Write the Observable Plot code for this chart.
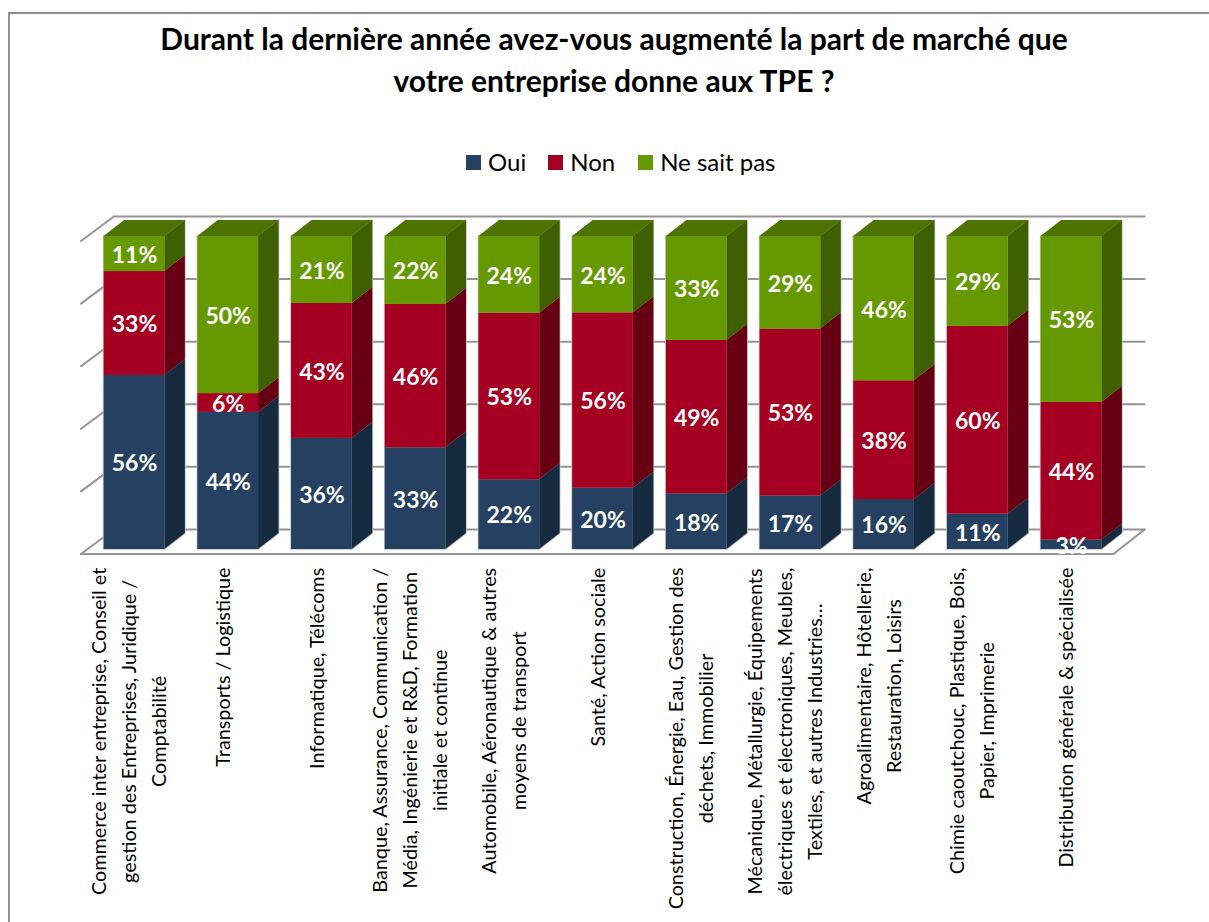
<!DOCTYPE html>
<html lang="fr">
<head>
<meta charset="utf-8">
<script src="https://cdn.jsdelivr.net/npm/d3@7"></script>
<script src="https://cdn.jsdelivr.net/npm/@observablehq/plot@0.6"></script>
<style>
  html, body { margin: 0; padding: 0; background: #fff; width: 1209px; height: 922px; overflow: hidden; }
  #frame { position: absolute; left: 8px; top: 12px; width: 1201px; height: 910px; box-sizing: border-box;
           border-left: 2px solid #8e8e8e; border-top: 2px solid #8e8e8e; }
  #head { position: absolute; left: 0; top: 0; width: 1209px; height: 190px; font-family: Lato, sans-serif; color: #000; }
  #title { position: absolute; left: 0; width: 1228px; top: 17px; margin: 0; text-align: center;
           font-size: 30px; line-height: 42px; font-weight: 700; }
  #legend { position: absolute; top: 148px; left: 466px; display: flex; align-items: center; font-size: 24px; line-height: 28px; white-space: nowrap; }
  #legend i { display: inline-block; width: 15px; height: 15px; margin-right: 7px; }
  #chart { position: absolute; left: 0; top: 190px; }
  #chart svg { display: block; background: transparent; }
</style>
</head>
<body>
<div id="frame"></div>
<div id="head">
  <h1 id="title">Durant la dernière année avez-vous augmenté la part de marché que<br>votre entreprise donne aux TPE ?</h1>
  <div id="legend"></div>
</div>
<div id="chart"></div>
<script>
const categories = [
  "Commerce inter entreprise, Conseil et\ngestion des Entreprises, Juridique /\nComptabilité",
  "Transports / Logistique",
  "Informatique, Télécoms",
  "Banque, Assurance, Communication /\nMédia, Ingénierie et R&D, Formation\ninitiale et continue",
  "Automobile, Aéronautique & autres\nmoyens de transport",
  "Santé, Action sociale",
  "Construction, Énergie, Eau, Gestion des\ndéchets, Immobilier",
  "Mécanique, Métallurgie, Équipements\nélectriques et électroniques, Meubles,\nTextiles, et autres Industries…",
  "Agroalimentaire, Hôtellerie,\nRestauration, Loisirs",
  "Chimie caoutchouc, Plastique, Bois,\nPapier, Imprimerie",
  "Distribution générale & spécialisée"
];
// values; the printed labels are these, rounded
const oui       = [55.6, 43.8, 35.5, 32.6, 22.2, 19.6, 17.8, 17, 16, 11.3, 3];
const non       = [33.2, 6, 43.1, 46, 53, 56, 49, 53, 38, 60, 44];
const neSaitPas = [11.2, 50.2, 21.4, 21.8, 24.4, 24.4, 33.2, 29.4, 46.2, 28.7, 53];
const seriesNames = ["Oui", "Non", "Ne sait pas"];
const frontColors = ["#254061", "#A50021", "#669900"];
const sideColors  = ["#172B40", "#680014", "#3F6000"];
const topColor    = "#4C7300";
const gridTicks   = [0, 20, 40, 60, 80, 100];

// 3D projection parameters, in data units (categories / percent)
const halfBar = 0.324, depthX = 0.219, depthY = 5.1;
const wallLeft = -0.219, frontLeft = -0.571, floorFrontY = -1.44, floorBackY = 6.4, frontRight = 10.448, backRight = 10.78;
const labelTop = -5.75;
const labelSize = 19.8;

// stack, normalised to 100 %
const series = [oui, non, neSaitPas];
const segments = [];
categories.forEach((c, i) => {
  const total = oui[i] + non[i] + neSaitPas[i];
  let acc = 0;
  series.forEach((values, s) => {
    const lo = acc / total * 100;
    acc += values[i];
    segments.push({i, s, value: values[i], lo, hi: acc / total * 100});
  });
});
const sidePoints = segments.flatMap(d => [
  {id: d.i + "-" + d.s, s: d.s, x: d.i + halfBar, y1: d.lo, y2: d.hi},
  {id: d.i + "-" + d.s, s: d.s, x: d.i + halfBar + depthX, y1: d.lo + depthY, y2: d.hi + depthY}
]);
const sideWhole = categories.flatMap((c, i) => [
  {i, x: i + halfBar, y1: 0, y2: 100},
  {i, x: i + halfBar + depthX, y1: depthY, y2: 100 + depthY}
]);
const topPoints = categories.flatMap((c, i) => [
  {i, y: 100, x1: i - halfBar, x2: i + halfBar},
  {i, y: 100 + depthY, x1: i - halfBar + depthX, x2: i + halfBar + depthX}
]);
const gridDiagonals = gridTicks.flatMap(t => [
  {t, x: frontLeft, y: t + floorFrontY},
  {t, x: wallLeft, y: t + floorBackY}
]);
const gridBacks = gridTicks.flatMap(t => [
  {t, x: wallLeft, y: t + floorBackY},
  {t, x: backRight, y: t + floorBackY}
]);
const floorEdge = [
  {x: frontLeft, y: floorFrontY},
  {x: frontRight, y: floorFrontY},
  {x: backRight, y: floorBackY}
];

// legend
const legend = document.getElementById("legend");
const legendGaps = [22, 23, 0];
seriesNames.forEach((name, s) => {
  const item = document.createElement("span");
  item.style.cssText = "display:inline-flex;align-items:center;margin-right:" + legendGaps[s] + "px";
  const sw = document.createElement("i");
  sw.style.background = frontColors[s];
  item.append(sw, name);
  legend.append(item);
});

// longest line per category, to keep all label blocks flush at the top
const ctx = document.createElement("canvas").getContext("2d");
ctx.font = labelSize + "px Lato";
const longest = c => d3.max(c.split("\n"), l => ctx.measureText(l).width);

const gridStroke = {stroke: "#949494", strokeWidth: 2};
const halo = {stroke: "#c4c4c4", strokeWidth: 1.6};
const plot = Plot.plot({
  width: 1209,
  height: 732,
  margin: 0,
  style: {fontFamily: "Lato, sans-serif", background: "transparent", overflow: "visible"},
  x: {domain: [0, 10], range: [134, 1071], axis: null},
  y: {domain: [0, 100], range: [359, 46], axis: null},
  marks: [
    Plot.line(gridDiagonals, {x: "x", y: "y", z: "t", ...gridStroke}),
    Plot.line(gridBacks, {x: "x", y: "y", z: "t", ...gridStroke}),
    Plot.line(floorEdge, {x: "x", y: "y", ...gridStroke}),
    Plot.areaY(sideWhole, {x: "x", y1: "y1", y2: "y2", z: "i", fill: "#c4c4c4", ...halo}),
    Plot.rect(categories, {x1: (c, i) => i - halfBar, x2: (c, i) => i + halfBar, y1: () => 0, y2: () => 100, fill: "#c4c4c4", ...halo}),
    Plot.areaX(topPoints, {y: "y", x1: "x1", x2: "x2", z: "i", fill: topColor}),
    Plot.areaY(sidePoints, {x: "x", y1: "y1", y2: "y2", z: "id", fill: d => sideColors[d.s]}),
    Plot.rect(segments, {
      x1: d => d.i - halfBar, x2: d => d.i + halfBar,
      y1: "lo", y2: "hi",
      fill: d => frontColors[d.s]
    }),
    Plot.text(segments, {
      x: "i", y: d => (d.lo + d.hi) / 2,
      text: d => Math.round(d.value) + "%",
      fill: "white", fontWeight: 700, fontSize: 23, dy: 1.5
    }),
    ...categories.map((c, i) => Plot.text([c], {
      x: () => i, y: () => labelTop,
      text: d => d,
      rotate: -90, textAnchor: "middle", lineAnchor: "middle", lineHeight: 1.515,
      fontSize: labelSize, fill: "#000", dx: -8, dy: longest(c) / 2
    }))
  ]
});
document.getElementById("chart").append(plot);
</script>
</body>
</html>
